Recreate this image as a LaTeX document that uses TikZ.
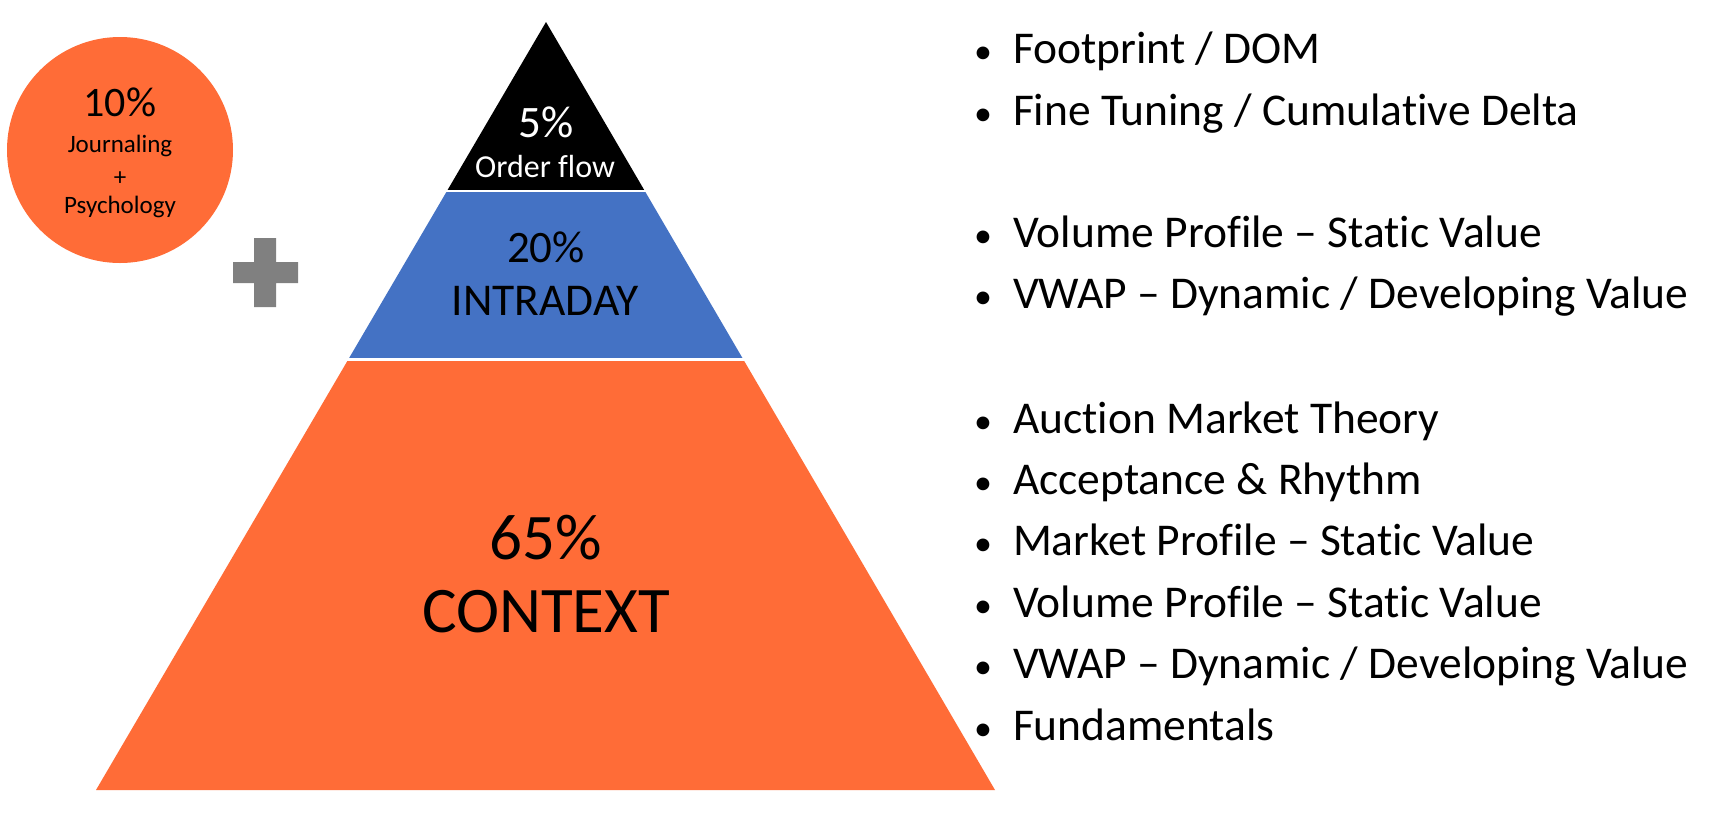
\documentclass[tikz,border=0pt]{standalone}
\usepackage{fontspec}
\setmainfont[Ligatures=NoCommon]{Carlito}
\usetikzlibrary{calc}
\definecolor{porange}{HTML}{FF6C37}
\definecolor{pblue}{HTML}{4472C4}
\definecolor{pgray}{HTML}{808080}
\tikzset{
  txt/.style={anchor=base, inner sep=0pt, outer sep=0pt},
  fs/.style={font=\fontsize{#1}{#1}\selectfont},
  bul/.style={txt, fs=36},
  item/.style={anchor=base west, inner sep=0pt, outer sep=0pt, fs=45.5},
  sep/.style={draw=white, line width=2.5pt}
}
\begin{document}
\begin{tikzpicture}[x=1pt, y=-1pt]
\useasboundingbox[fill=white] (0,0) rectangle (1712,815);

% pyramid
\coordinate (A) at (546,22);
\coordinate (L) at (96,790);
\coordinate (R) at (995,790);
\coordinate (L1) at ($(A)!0.2201!(L)$);
\coordinate (R1) at ($(A)!0.2201!(R)$);
\coordinate (L2) at ($(A)!0.4395!(L)$);
\coordinate (R2) at ($(A)!0.4395!(R)$);
\fill[black] (A) -- (L1) -- (R1) -- cycle;
\fill[pblue] (L1) -- (L2) -- (R2) -- (R1) -- cycle;
\fill[porange] (L2) -- (L) -- (R) -- (R2) -- cycle;
\draw[sep] ($(L1)+(-5,0)$) -- ($(R1)+(5,0)$);
\draw[sep] ($(L2)+(-5,0)$) -- ($(R2)+(5,0)$);

\node[txt, fs=45, text=white] (p5) at (546,137) {5\%};
\node[txt, fs=32, text=white] (of) at (545,177) {Order flow};
\node[txt, fs=45] (p20) at (546,262) {20\%};
\node[txt, fs=45.5] (intra) at (545,315) {INTRADAY};
\node[txt, fs=65] (p65) at (546,559) {65\%};
\node[txt, fs=65] (ctx) at (546,632) {CONTEXT};

% circle
\fill[porange] (120,150) circle[radius=113];
\node[txt, fs=42] (p10) at (120,116) {10\%};
\node[txt, fs=25] (jr) at (120,152) {Journaling};
\node[txt, fs=25] (pl) at (120,185) {+};
\node[txt, fs=25] (ps) at (120,213) {Psychology};

% plus sign
\fill[pgray] (254,238) -- (276,238) -- (276,262) -- (298,262) -- (298,283)
  -- (276,283) -- (276,307) -- (254,307) -- (254,283) -- (233,283)
  -- (233,262) -- (254,262) -- cycle;

% bullet lists
\node[bul] (b1) at (983,63) {\textbullet};
\node[item] (t1) at (1013,63) {Footprint / DOM};
\node[bul] (b2) at (983,125) {\textbullet};
\node[item] (t2) at (1013,125) {Fine Tuning / Cumulative Delta};
\node[bul] (b3) at (983,247) {\textbullet};
\node[item] (t3) at (1013,247) {Volume Profile – Static Value};
\node[bul] (b4) at (983,308) {\textbullet};
\node[item] (t4) at (1013,308) {VWAP – Dynamic / Developing Value};
\node[bul] (b5) at (983,433) {\textbullet};
\node[item] (t5) at (1013,433) {Auction Market Theory};
\node[bul] (b6) at (983,494) {\textbullet};
\node[item] (t6) at (1013,494) {Acceptance \& Rhythm};
\node[bul] (b7) at (983,555) {\textbullet};
\node[item] (t7) at (1013,555) {Market Profile – Static Value};
\node[bul] (b8) at (983,617) {\textbullet};
\node[item] (t8) at (1013,617) {Volume Profile – Static Value};
\node[bul] (b9) at (983,678) {\textbullet};
\node[item] (t9) at (1013,678) {VWAP – Dynamic / Developing Value};
\node[bul] (b10) at (983,740) {\textbullet};
\node[item] (t10) at (1013,740) {Fundamentals};
\end{tikzpicture}
\end{document}
